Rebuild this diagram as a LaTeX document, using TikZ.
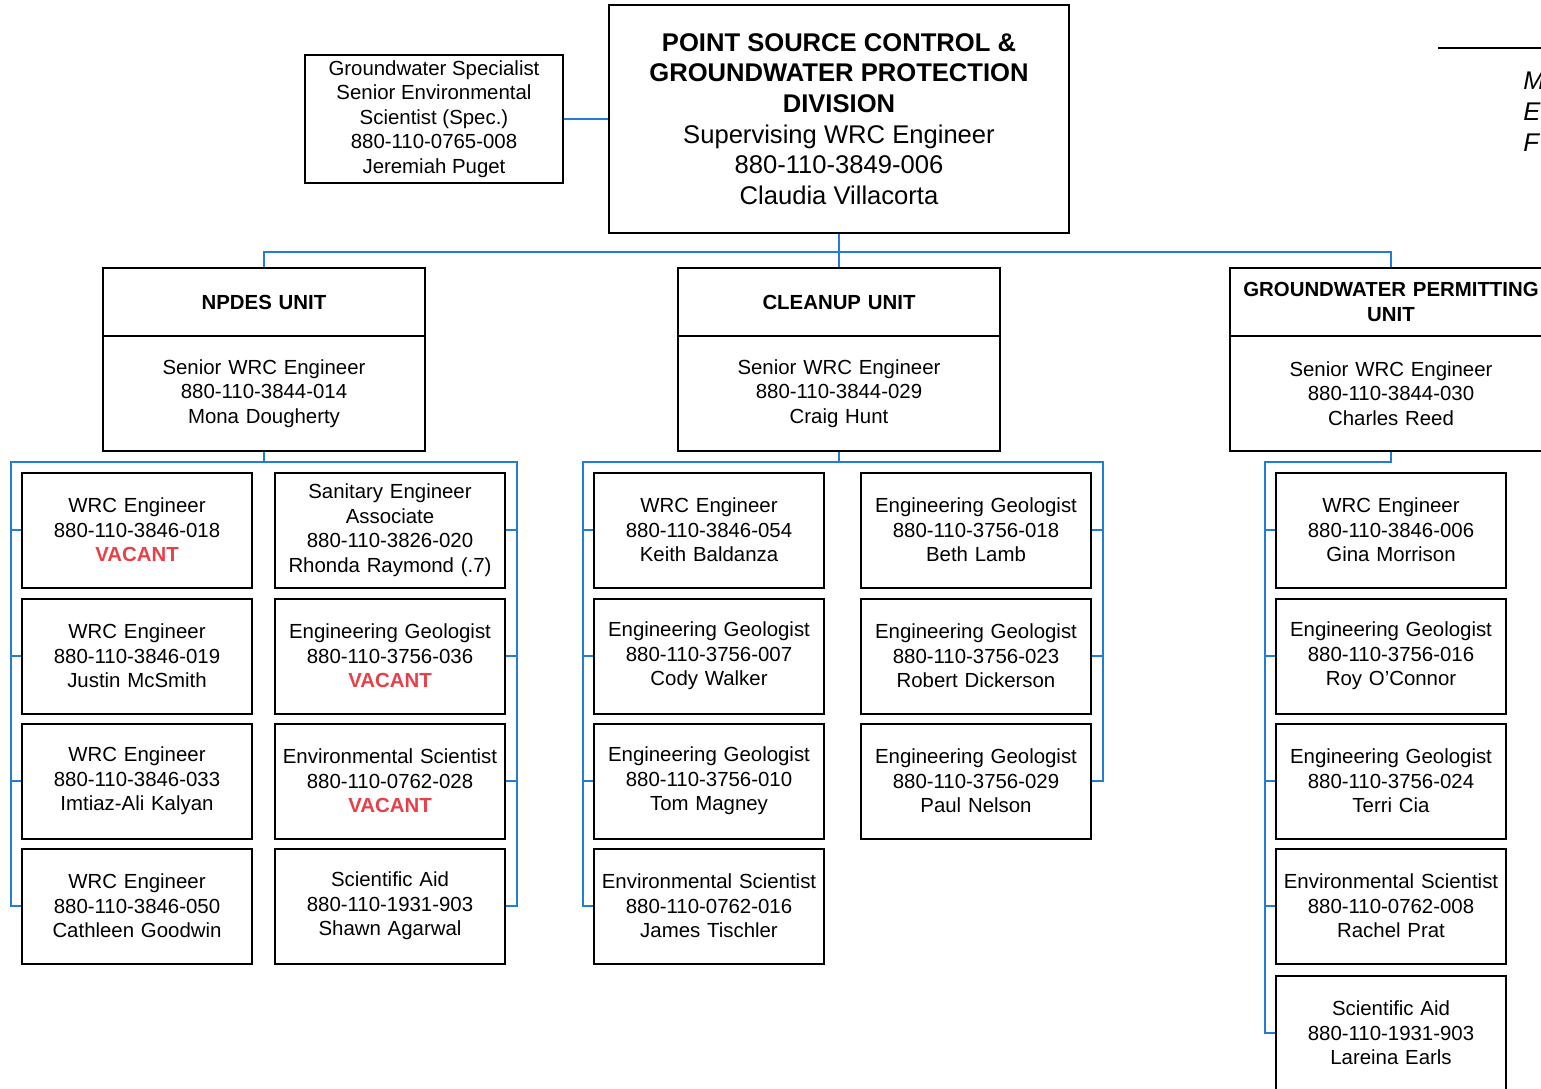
\documentclass[tikz,border=0pt]{standalone}
\usepackage{fontspec}
\setmainfont{Liberation Sans}
\usepackage{tikz}
\usetikzlibrary{positioning}
\usetikzlibrary{calc}
\newcommand{\vacant}{\textcolor{vacantred}{\textbf{VACANT}}}

\begin{document}
\begin{tikzpicture}[x=0.5pt, y=-0.5pt,
  staff/.style={draw, line width=1pt, minimum width=115pt, minimum height=57.5pt,
    inner sep=0pt, text width=113pt, align=center, font=\fontsize{10.2}{12.25}\selectfont},
  unithead/.style={draw, line width=1pt, minimum width=161pt, minimum height=34pt,
    inner sep=0pt, text width=158pt, align=center, font=\bfseries\fontsize{10.2}{12.25}\selectfont},
  unitbody/.style={draw, line width=1pt, minimum width=161pt, minimum height=57.5pt,
    inner sep=0pt, text width=158pt, align=center, font=\fontsize{10.2}{12.25}\selectfont},
  link/.style={draw=linkblue, line width=0.9pt}]
  \definecolor{linkblue}{RGB}{35,125,215}
  \definecolor{vacantred}{RGB}{232,64,72}

  \useasboundingbox (0,0) rectangle (1541,1088);

  \def\railtop{462}
  \def\rowa{530}
  \def\rowb{656}
  \def\rowc{781}
  \def\rowd{906}
  \def\rowe{1033}
  \def\npl{137}
  \def\npr{390}
  \def\cul{709}
  \def\cur{976}
  \def\gwc{1391}

  % division and specialist
  \node[draw, line width=1pt, minimum width=230pt, minimum height=114pt, inner sep=0pt,
    align=center, font=\fontsize{12.8}{15.3}\selectfont] (division) at (839,119)
    {\textbf{POINT SOURCE CONTROL \&}\\\textbf{GROUNDWATER PROTECTION}\\\textbf{DIVISION}\\
     Supervising WRC Engineer\\880-110-3849-006\\Claudia Villacorta};
  \node[draw, line width=1pt, minimum width=129pt, minimum height=64pt, inner sep=0pt,
    align=center, font=\fontsize{10.2}{12.25}\selectfont] (gwspec) at (434,119)
    {Groundwater Specialist\\Senior Environmental\\Scientist (Spec.)\\880-110-0765-008\\Jeremiah Puget};

  % top right fragment
  \coordinate (ruleL) at (1438,48);
  \coordinate (ruleR) at (1545,48);
  \draw[line width=0.9pt] (ruleL) -- (ruleR);
  \node[anchor=north west, inner sep=0pt, align=left,
    font=\itshape\fontsize{12.8}{15.5}\selectfont] (legend) at (1523,71) {M\\E\\F};

  % units
  \node[unithead] (nphead) at (264,302) {NPDES UNIT};
  \node[unitbody] (np) at (264,393.5) {Senior WRC Engineer\\880-110-3844-014\\Mona Dougherty};
  \node[unithead] (cuhead) at (839,302) {CLEANUP UNIT};
  \node[unitbody] (cu) at (839,393.5) {Senior WRC Engineer\\880-110-3844-029\\Craig Hunt};
  \node[unithead] (gwhead) at (\gwc,302) {GROUNDWATER PERMITTING\\UNIT};
  \node[unitbody] (gw) at (\gwc,393.5) {Senior WRC Engineer\\880-110-3844-030\\Charles Reed};

  % npdes staff
  \node[staff] (np11) at (\npl,\rowa) {WRC Engineer\\880-110-3846-018\\\vacant};
  \node[staff] (np21) at (\npl,\rowb) {WRC Engineer\\880-110-3846-019\\Justin McSmith};
  \node[staff] (np31) at (\npl,\rowc) {WRC Engineer\\880-110-3846-033\\Imtiaz-Ali Kalyan};
  \node[staff] (np41) at (\npl,\rowd) {WRC Engineer\\880-110-3846-050\\Cathleen Goodwin};
  \node[staff] (np12) at (\npr,\rowa) {Sanitary Engineer\\Associate\\880-110-3826-020\\Rhonda Raymond (.7)};
  \node[staff] (np22) at (\npr,\rowb) {Engineering Geologist\\880-110-3756-036\\\vacant};
  \node[staff] (np32) at (\npr,\rowc) {Environmental Scientist\\880-110-0762-028\\\vacant};
  \node[staff] (np42) at (\npr,\rowd) {Scientific Aid\\880-110-1931-903\\Shawn Agarwal};

  % cleanup staff
  \node[staff] (cu11) at (\cul,\rowa) {WRC Engineer\\880-110-3846-054\\Keith Baldanza};
  \node[staff] (cu21) at (\cul,\rowb) {Engineering Geologist\\880-110-3756-007\\Cody Walker};
  \node[staff] (cu31) at (\cul,\rowc) {Engineering Geologist\\880-110-3756-010\\Tom Magney};
  \node[staff] (cu41) at (\cul,\rowd) {Environmental Scientist\\880-110-0762-016\\James Tischler};
  \node[staff] (cu12) at (\cur,\rowa) {Engineering Geologist\\880-110-3756-018\\Beth Lamb};
  \node[staff] (cu22) at (\cur,\rowb) {Engineering Geologist\\880-110-3756-023\\Robert Dickerson};
  \node[staff] (cu32) at (\cur,\rowc) {Engineering Geologist\\880-110-3756-029\\Paul Nelson};

  % groundwater permitting staff
  \node[staff] (gw1) at (\gwc,\rowa) {WRC Engineer\\880-110-3846-006\\Gina Morrison};
  \node[staff] (gw2) at (\gwc,\rowb) {Engineering Geologist\\880-110-3756-016\\Roy O’Connor};
  \node[staff] (gw3) at (\gwc,\rowc) {Engineering Geologist\\880-110-3756-024\\Terri Cia};
  \node[staff] (gw4) at (\gwc,\rowd) {Environmental Scientist\\880-110-0762-008\\Rachel Prat};
  \node[staff] (gw5) at (\gwc,\rowe) {Scientific Aid\\880-110-1931-903\\Lareina Earls};

  % division links
  \coordinate (bus) at (839,252);
  \draw[link] (gwspec.east) -- (division.west);
  \draw[link] (division.south) -- (cuhead.north);
  \draw[link] (nphead.north) |- (bus) -| (gwhead.north);

  % npdes rails
  \coordinate (npL) at (11,\railtop);
  \coordinate (npR) at (517,\railtop);
  \draw[link] (np.south) -- (np.south |- npL);
  \draw[link] (np41.west) -| (npL) -- (npR) |- (np42.east);
  \foreach \r in {1,2,3} {
    \draw[link] (np\r1.west) -- (np\r1.west -| npL);
    \draw[link] (np\r2.east) -- (np\r2.east -| npR);
  }

  % cleanup rails
  \coordinate (cuL) at (583,\railtop);
  \coordinate (cuR) at (1103,\railtop);
  \draw[link] (cu.south) -- (cu.south |- cuL);
  \draw[link] (cu41.west) -| (cuL) -- (cuR) |- (cu32.east);
  \foreach \r in {1,2,3} {
    \draw[link] (cu\r1.west) -- (cu\r1.west -| cuL);
  }
  \foreach \r in {1,2} {
    \draw[link] (cu\r2.east) -- (cu\r2.east -| cuR);
  }

  % groundwater permitting rail
  \coordinate (gwL) at (1265,\railtop);
  \draw[link] (gw.south) |- (gwL) |- (gw5.west);
  \foreach \r in {1,2,3,4} {
    \draw[link] (gw\r.west) -- (gw\r.west -| gwL);
  }

\end{tikzpicture}
\end{document}
